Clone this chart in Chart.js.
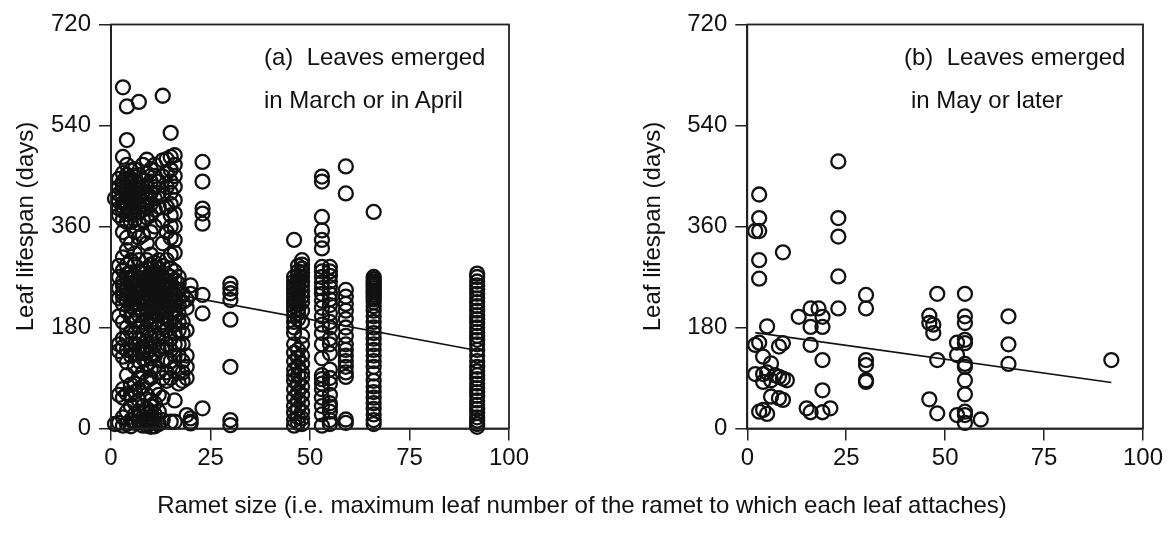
<!DOCTYPE html>
<html><head><meta charset="utf-8">
<script src="https://cdn.jsdelivr.net/npm/chart.js@4.4.1/dist/chart.umd.min.js"></script>
<style>
html,body{margin:0;padding:0;background:#fff;}
body{width:1168px;height:533px;position:relative;overflow:hidden;font-family:"Liberation Sans",Arial,sans-serif;}
canvas{position:absolute;top:0;}
.note{position:absolute;font-size:24px;color:#111;white-space:pre;line-height:24px;}
</style></head><body>
<canvas id="ca" width="540" height="533" style="left:0"></canvas>
<canvas id="cb" width="548" height="533" style="left:620px"></canvas>
<div class="note" style="left:264px;top:45px">(a)  Leaves emerged</div>
<div class="note" style="left:264px;top:88px">in March or in April</div>
<div class="note" style="left:904px;top:45px">(b)  Leaves emerged</div>
<div class="note" style="left:911px;top:88px">in May or later</div>
<div class="note" id="xt" style="left:582px;top:493px;transform:translateX(-50%)">Ramet size (i.e. maximum leaf number of the ramet to which each leaf attaches)</div>
<script>
// ---- Data: panel (a) leaves emerged in March or April ----
const rametA = [1,2,3,4,5,6,7,8,9,10,11,12,13,14,15,16,17,18,19,20,23,30,46,47,48,53,55,59,66,92];
const lifespanA = [
  [410, 8],
  [445, 430, 418, 405, 392, 380, 290, 270, 250, 232, 200, 150, 138, 60, 10],
  [608, 484, 455, 440, 428, 415, 402, 388, 372, 350, 305, 282, 262, 242, 222, 190, 160, 145, 128, 70, 55, 20, 5, 435, 395, 255, 235],
  [574, 514, 470, 452, 438, 424, 410, 396, 382, 368, 340, 318, 292, 268, 248, 228, 208, 180, 162, 140, 118, 95, 62, 30, 8, 445, 418, 402, 275, 238],
  [460, 445, 430, 415, 400, 385, 368, 330, 300, 278, 258, 238, 218, 198, 172, 150, 130, 78, 60, 40, 15, 4, 422, 408, 392, 268, 228, 140],
  [462, 448, 432, 418, 404, 390, 372, 350, 312, 292, 272, 252, 232, 212, 192, 170, 150, 132, 110, 80, 65, 45, 25, 10, 440, 410, 262, 242, 222],
  [582, 452, 435, 418, 402, 386, 365, 340, 300, 278, 258, 240, 222, 202, 182, 160, 140, 120, 90, 70, 50, 30, 12, 426, 394, 268, 250, 230],
  [470, 442, 422, 405, 390, 372, 345, 282, 265, 246, 226, 206, 190, 170, 145, 125, 100, 75, 40, 20, 5, 430, 398, 255, 235, 135],
  [479, 455, 432, 412, 395, 376, 330, 300, 285, 270, 255, 240, 225, 210, 195, 175, 155, 135, 115, 85, 60, 35, 15, 5, 420, 262, 248, 145, 25],
  [462, 440, 420, 400, 380, 350, 310, 292, 276, 260, 245, 230, 215, 200, 185, 162, 142, 125, 105, 90, 50, 30, 20, 10, 3, 268, 252, 238, 15, 40],
  [470, 450, 430, 410, 390, 360, 295, 280, 265, 250, 235, 220, 205, 190, 170, 150, 130, 110, 70, 45, 25, 10, 4, 272, 258, 242, 228, 18],
  [440, 420, 395, 300, 285, 270, 255, 240, 225, 205, 180, 160, 140, 100, 60, 30, 8, 262, 248, 232, 215],
  [593, 478, 449, 415, 370, 330, 290, 270, 255, 240, 228, 215, 200, 185, 165, 145, 120, 90, 55, 15],
  [480, 455, 430, 395, 350, 300, 275, 262, 250, 240, 230, 220, 210, 195, 175, 150, 125, 100, 85],
  [527, 484, 461, 440, 420, 400, 380, 360, 340, 310, 285, 270, 258, 248, 238, 228, 218, 205, 190, 160, 140, 120, 90, 12],
  [487, 470, 450, 431, 407, 383, 360, 336, 313, 280, 265, 250, 238, 225, 212, 200, 185, 170, 150, 130, 110, 50, 12],
  [270, 258, 245, 232, 220, 205, 190, 175, 150, 130, 100, 80],
  [240, 225, 190, 170, 150, 120, 100, 85],
  [230, 215, 175, 130, 110, 90, 24],
  [255, 240, 18, 9, 12],
  [475, 440, 392, 383, 365, 238, 205, 36],
  [258, 249, 241, 229, 194, 110, 15, 6],
  [336, 270, 262, 255, 248, 240, 232, 225, 218, 210, 200, 190, 180, 170, 150, 135, 120, 105, 95, 85, 70, 55, 40, 28, 15, 5],
  [290, 280, 272, 265, 258, 250, 242, 235, 228, 220, 212, 205, 195, 140, 125, 110, 95, 80, 65, 50, 35, 20, 10],
  [300, 292, 285, 278, 270, 262, 255, 245, 235, 225, 210, 190, 165, 150, 130, 115, 100, 90, 75, 60, 45, 30, 18, 8],
  [449, 440, 377, 353, 336, 321, 288, 280, 270, 260, 250, 240, 228, 215, 200, 185, 170, 150, 125, 95, 88, 80, 70, 55, 40, 25, 5],
  [288, 280, 272, 262, 252, 240, 230, 220, 205, 190, 180, 160, 150, 134, 105, 90, 80, 60, 45, 39, 30, 15, 8],
  [467, 419, 247, 235, 222, 210, 195, 180, 165, 150, 140, 130, 120, 110, 100, 92, 16, 10],
  [386, 270, 266, 262, 258, 254, 250, 246, 242, 238, 234, 230, 225, 218, 210, 200, 190, 180, 170, 160, 150, 140, 130, 120, 110, 98, 85, 75, 65, 55, 45, 35, 25, 15, 8],
  [276, 270, 262, 255, 248, 240, 232, 225, 218, 210, 202, 195, 188, 180, 172, 165, 158, 150, 140, 130, 120, 110, 102, 95, 88, 80, 72, 65, 58, 50, 42, 35, 28, 20, 14, 8, 3]
];
const trendAX = [1, 92];
const trendAY = [259, 139];

// ---- Data: panel (b) leaves emerged in May or later ----
const rametB = [2,3,3,3,3,3, 2,3,5,8,9,4,6, 2,4,5,6,7,8,9,10,4, 6,8,9,3,4,5, 9,
  13,16,18,19,16,19,16,19,19,15,16,19,21, 23,23,23,23,23, 30,30,30,30,30,30,
  46,46,47,47,48,48,46,48, 53,53,53, 55,55,55,55,55,55,55,55,55,55,55,55, 59, 66,66,66, 92];
const lifespanB = [352,352,417,375,300,267, 149,153,182,146,152,128,116, 97,97,100,86,95,92,89,86,83, 57,54,51,30,33,26, 314,
  199,214,214,199,181,181,149,122,68,36,29,29,36, 476,375,342,271,214, 238,214,122,113,86,83,
  201,188,185,170,240,122,52,27, 153,131,24, 240,200,188,158,152,115,110,86,61,30,24,10, 16, 200,150,115, 122];
const trendBX = [2, 92];
const trendBY = [171, 82];

const xTicks = [0, 25, 50, 75, 100];
const yTicks = [0, 180, 360, 540, 720];
const yTitle = 'Leaf lifespan (days)';

// ---- Build ----
const FONT = '"Liberation Sans", Arial, sans-serif';
const INK = '#111';

const ptsA = [];
rametA.forEach((r, i) => lifespanA[i].forEach(v => ptsA.push({x: r, y: v})));
const ptsB = rametB.map((r, i) => ({x: r, y: lifespanB[i]}));
const lineA = trendAX.map((x, i) => ({x, y: trendAY[i]}));
const lineB = trendBX.map((x, i) => ({x, y: trendBY[i]}));

const frame = {
  id: 'frame',
  afterDraw(c) {
    const {ctx, chartArea: a} = c;
    ctx.save();
    ctx.strokeStyle = '#222';
    ctx.lineWidth = 1.8;
    ctx.strokeRect(a.left, a.top, a.right - a.left, a.bottom - a.top);
    ctx.restore();
  }
};

function build(id, pts, line, yWidth, padRight, titlePad) {
  return new Chart(document.getElementById(id), {
    type: 'scatter',
    data: {
      datasets: [
        {data: pts, pointRadius: 7, pointHoverRadius: 7, pointBorderWidth: 2.3,
         pointBorderColor: INK, pointBackgroundColor: 'rgba(0,0,0,0)', showLine: false, clip: false, order: 2},
        {type: 'line', data: line, borderColor: INK, borderWidth: 1.7, pointRadius: 0,
         fill: false, clip: false, order: 1}
      ]
    },
    options: {
      responsive: false, animation: false, devicePixelRatio: 1,
      layout: {padding: {top: 24.5, right: padRight, bottom: 0, left: 0}},
      plugins: {legend: {display: false}, tooltip: {enabled: false}},
      scales: {
        x: {
          type: 'linear', min: 0, max: 100,
          afterBuildTicks: s => { s.ticks = xTicks.map(v => ({value: v})); },
          afterFit: s => { s.height = 104.5; },
          grid: {drawOnChartArea: false, drawTicks: true, tickLength: 12, color: '#222', lineWidth: 1.5},
          border: {display: true, color: '#222', width: 1.8},
          ticks: {color: INK, font: {family: FONT, size: 24}, padding: 3, maxRotation: 0}
        },
        y: {
          type: 'linear', min: 0, max: 720,
          afterBuildTicks: s => { s.ticks = yTicks.map(v => ({value: v})); },
          afterFit: s => { s.width = yWidth; },
          grid: {drawOnChartArea: false, drawTicks: true, tickLength: 12, color: '#222', lineWidth: 1.5},
          border: {display: true, color: '#222', width: 1.8},
          ticks: {color: INK, font: {family: FONT, size: 24}, padding: 8},
          title: {display: true, text: yTitle, color: INK, font: {family: FONT, size: 24}, padding: {top: titlePad, bottom: 0}}
        }
      }
    },
    plugins: [frame]
  });
}

build('ca', ptsA, lineA, 111, 31, 12.3);
build('cb', ptsB, lineB, 127.3, 25, 18.6);
</script>
</body></html>
